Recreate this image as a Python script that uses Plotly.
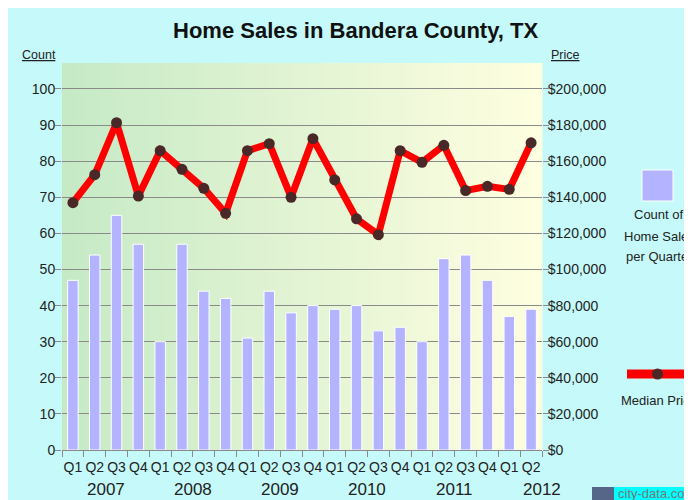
import plotly.graph_objects as go

# ---- data ----
quarters = ["Q1", "Q2", "Q3", "Q4"] * 5 + ["Q1", "Q2"]
years = ["2007", "2008", "2009", "2010", "2011", "2012"]
counts = [47, 54, 65, 57, 30, 57, 44, 42, 31, 44, 38, 40, 39, 40, 33, 34, 30, 53, 54, 47, 37, 39]
prices = [137000, 152500, 181300, 140700, 165800, 155500, 145000, 131100, 165800, 169700, 140000,
          172500, 149600, 128100, 119300, 165800, 159400, 168800, 143700, 146100, 144400, 170200]
count_ticks = list(range(0, 101, 10))
price_ticks = list(range(0, 200001, 20000))
price_labels = ["$" + format(v, ",") for v in price_ticks]

x = list(range(len(counts)))

W, H = 692, 500
OFF = 8  # page body margin
# plot area in page pixels
PL, PR, PT, PB = 62, 542, 63, 450
L, R, T, B = PL - OFF, PR - OFF, PT - OFF, PB - OFF
FONT = "Arial, Liberation Sans, sans-serif"


def px(v):  # page pixel x -> paper
    return (v - PL) / (PR - PL)


def py(v):  # page pixel y -> paper
    return (PB - v) / (PB - PT)


fig = go.Figure()
fig.add_trace(go.Bar(x=x, y=counts, marker=dict(color="#b3b3ff", line=dict(color="white", width=1)),
                     width=0.48, yaxis="y", hoverinfo="skip"))
fig.add_trace(go.Scatter(x=x, y=prices, yaxis="y2", mode="lines+markers",
                         line=dict(color="#ff0000", width=7),
                         marker=dict(color="#4a2828", size=11), hoverinfo="skip"))

shapes = []
# gradient plot background
N = 60
c0 = (198, 234, 198)
c1 = (254, 254, 224)
for i in range(N):
    t = i / (N - 1)
    c = tuple(round(c0[k] + (c1[k] - c0[k]) * t) for k in range(3))
    shapes.append(dict(type="rect", xref="paper", yref="paper", x0=i / N, x1=(i + 1.05) / N, y0=0, y1=1,
                       fillcolor="rgb(%d,%d,%d)" % c, line=dict(width=0), layer="below"))
# legend marks
shapes.append(dict(type="rect", xref="paper", yref="paper", x0=px(642), x1=px(673), y0=py(201), y1=py(170),
                   fillcolor="#b3b3ff", line=dict(color="white", width=1)))
shapes.append(dict(type="line", xref="paper", yref="paper", x0=px(627), x1=px(688), y0=py(374), y1=py(374),
                   line=dict(color="#ff0000", width=9)))
shapes.append(dict(type="circle", xref="paper", yref="paper", x0=px(652), x1=px(663), y0=py(379.5), y1=py(368.5),
                   fillcolor="#4a2828", line=dict(width=0)))
# city-data badge
shapes.append(dict(type="rect", xref="paper", yref="paper", x0=px(592), x1=px(614), y0=py(502), y1=py(487),
                   fillcolor="#556688", line=dict(width=0)))
shapes.append(dict(type="rect", xref="paper", yref="paper", x0=px(614), x1=px(700), y0=py(502), y1=py(487),
                   fillcolor="#00ffff", line=dict(width=0)))


def label(text, xx, yy, size, color="#222", xanchor="center", xref="paper"):
    return dict(text=text, xref=xref, yref="paper", x=xx, y=py(yy), showarrow=False,
                xanchor=xanchor, yanchor="middle", font=dict(size=size, color=color, family=FONT))


ann = []
ann.append(label("<b>Home Sales in Bandera County, TX</b>", px(355), 30, 22, "#111"))
ann.append(label("<u>Count</u>", px(39), 55, 12.5))
ann.append(label("<u>Price</u>", px(565), 55, 12.5))
for i, yr in enumerate(years):
    ann.append(label(yr, 4 * i + 1.5, 489, 17, xref="x"))
for txt, yy in [("Count of", 215), ("Home Sales", 236), ("per Quarter", 257), ("Median Price", 400)]:
    ann.append(label(txt, px(659), yy, 13))
ann.append(label("city-data.com", px(616), 494, 13, "#777", xanchor="left"))

fig.update_layout(
    width=W, height=H, autosize=False,
    margin=dict(l=L, r=W - R, t=T, b=H - B, pad=0),
    paper_bgcolor="#c6fafa", plot_bgcolor="rgba(0,0,0,0)",
    showlegend=False,
    font=dict(family=FONT, size=14, color="#222"),
    xaxis=dict(range=[-0.5, len(x) - 0.5], tickvals=x, ticktext=quarters, ticks="", ticklen=0,
               showgrid=False, zeroline=False, showline=True, linecolor="#8a8a8a", linewidth=1,
               tickfont=dict(size=14, color="#222"), ticklabelstandoff=4,
               minor=dict(tickvals=[v - 0.5 for v in range(len(x) + 1)], ticks="outside", ticklen=6,
                          tickcolor="#8a8a8a", tickwidth=1, showgrid=False)),
    yaxis=dict(range=[0, 107.2], tickvals=count_ticks, showgrid=True, gridcolor="#8a8a8a", gridwidth=1,
               zeroline=False, ticks="outside", ticklen=6, tickcolor="#8a8a8a", ticklabelstandoff=-3,
               tickfont=dict(size=14, color="#222"), fixedrange=True),
    yaxis2=dict(range=[0, 214400], tickvals=price_ticks, ticktext=price_labels, overlaying="y", side="right",
                showgrid=False, zeroline=False, ticks="outside", ticklen=6, tickcolor="#8a8a8a",
                ticklabelstandoff=-4, tickfont=dict(size=14, color="#222")),
    shapes=shapes, annotations=ann,
)

fig.write_html("out.html")
